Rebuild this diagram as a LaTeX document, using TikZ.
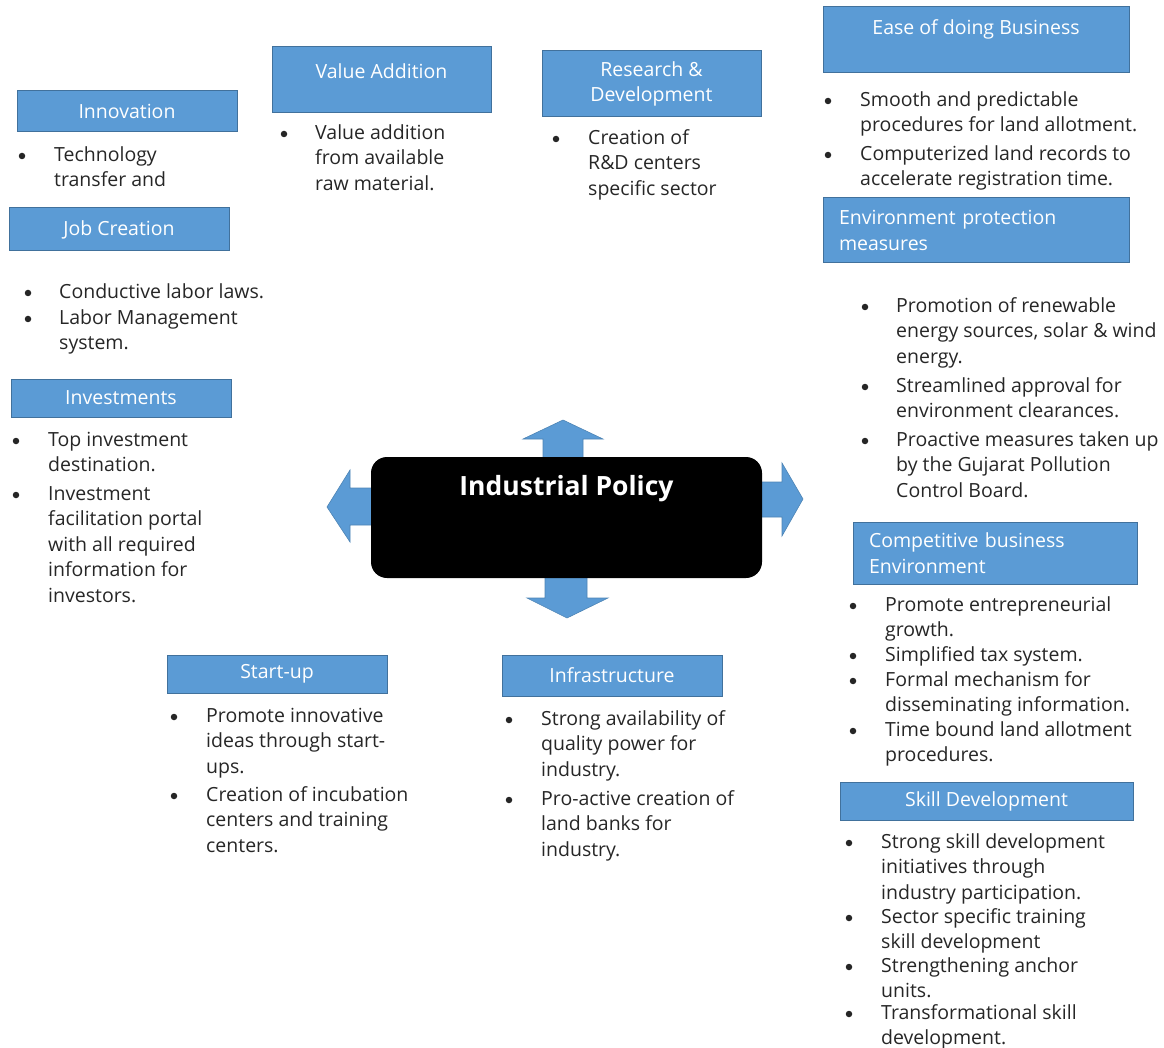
\documentclass[tikz,border=0pt]{standalone}
\usepackage{fontspec}
\setmainfont{Open Sans}
\definecolor{boxblue}{HTML}{5B9BD5}
\definecolor{boxedge}{HTML}{41719C}
\definecolor{inktext}{HTML}{262626}
\newcommand{\bodyfont}{\fontsize{19.5}{25.5}\selectfont}
% bullet and text of one list item
\newcommand{\itm}[5]{%
  \node[dot] at (#2,#4+1) {};
  \node[item] (#1) at (#3,#4) {\strut #5};
}
\tikzset{
  hdr/.style={draw=boxedge, line width=1pt, fill=boxblue, text=white, font=\bodyfont, inner sep=0pt, align=center},
  item/.style={anchor=north west, inner sep=0pt, align=left, text=inktext, font=\bodyfont, yshift=11.85pt},
  dot/.style={circle, fill=inktext, inner sep=0pt, minimum size=6.5pt},
  blockarrow/.style={fill=boxblue, draw=boxblue!85!black, line width=0.6pt}
}
\begin{document}
\begin{tikzpicture}[x=1pt, y=-1pt]
    \useasboundingbox (0,0) rectangle (1164,1048);

    % block arrows round the policy box
    \draw[blockarrow] (543,458) -- (543,439) -- (523,439) -- (563,420) -- (603,439) -- (583,439) -- (583,458) -- cycle;
    \draw[blockarrow] (545,577) -- (545,598) -- (527,598) -- (567,618) -- (608,598) -- (587,598) -- (587,577) -- cycle;
    \draw[blockarrow] (372,488) -- (350,488) -- (350,470) -- (327,507) -- (350,542) -- (350,525) -- (372,525) -- cycle;
    \draw[blockarrow] (761,482) -- (782,482) -- (782,463) -- (803,499) -- (782,536) -- (782,517) -- (761,517) -- cycle;

    \node[fill=black, rounded corners=16pt, text=white, font=\bfseries\fontsize{26.5}{32}\selectfont,
          minimum width=391pt, minimum height=121pt, text height=20pt, text depth=64pt, inner sep=0pt]
          (policy) at (566.5,517.5) {Industrial Policy};

    % left column
    \node[hdr, minimum width=220pt, minimum height=41pt] (innov) at (127,111.5) {Innovation};
    \itm{innov1}{22}{54}{155}{Technology\\transfer and}

    \node[hdr, minimum width=220pt, minimum height=43pt] (jobs) at (119,229.5) {Job Creation};
    \itm{jobs1}{28}{59}{292}{Conductive labor laws.}
    \itm{jobs2}{28}{59}{318}{Labor Management\\system.}

    \node[hdr, minimum width=220pt, minimum height=38pt] (invest) at (121,398) {Investments};
    \itm{invest1}{16}{48}{440}{Top investment\\destination.}
    \itm{invest2}{16}{48}{494}{Investment\\facilitation portal\\with all required\\information for\\investors.}

    % top row
    \node[hdr, minimum width=219pt, minimum height=66pt, text height=14pt, text depth=17pt] (value) at (381.5,80) {Value Addition};
    \itm{value1}{284}{315}{133}{Value addition\\from available\\raw material.}

    \node[hdr, minimum width=219pt, minimum height=66pt] (rnd) at (651.5,84) {Research \&\\Development};
    \itm{rnd1}{556}{588}{138}{Creation of\\R\&D centers\\specific sector}

    % right column
    \node[hdr, minimum width=306pt, minimum height=66pt, text height=14pt, text depth=25pt] (ease) at (976,40) {Ease of doing Business};
    \itm{ease1}{828}{860}{100}{Smooth and predictable\\procedures for land allotment.}
    \itm{ease2}{828}{860}{154}{Computerized land records to\\accelerate registration time.}

    \node[hdr, align=left, text width=274pt, inner xsep=16pt, minimum height=65pt] (env) at (976,230.5) {Environment protection\\measures};
    \itm{env1}{865}{896}{306}{Promotion of renewable\\energy sources, solar \& wind\\energy.}
    \itm{env2}{865}{896}{386}{Streamlined approval for\\environment clearances.}
    \itm{env3}{865}{896}{440}{Proactive measures taken up\\by the Gujarat Pollution\\Control Board.}

    \node[hdr, align=left, text width=252pt, inner xsep=16pt, minimum height=62pt] (compet) at (995,553) {Competitive business\\Environment};
    \itm{compet1}{853}{885}{605}{Promote entrepreneurial\\growth.}
    \itm{compet2}{853}{885}{655}{Simplified tax system.}
    \itm{compet3}{853}{885}{680}{Formal mechanism for\\disseminating information.}
    \itm{compet4}{853}{885}{730}{Time bound land allotment\\procedures.}

    \node[hdr, minimum width=293pt, minimum height=38pt] (skill) at (986.5,801) {Skill Development};
    \itm{skill1}{849}{881}{842}{Strong skill development\\initiatives through\\industry participation.}
    \itm{skill2}{849}{881}{917}{Sector specific training\\skill development}
    \itm{skill3}{849}{881}{966}{Strengthening anchor\\units.}
    \itm{skill4}{849}{881}{1013}{Transformational skill\\development.}

    % bottom row
    \node[hdr, minimum width=220pt, minimum height=38pt] (startup) at (277,674) {Start-up};
    \itm{startup1}{174}{206}{716}{Promote innovative\\ideas through start-\\ups.}
    \itm{startup2}{174}{206}{795}{Creation of incubation\\centers and training\\centers.}

    \node[hdr, minimum width=220pt, minimum height=41pt] (infra) at (612,675.5) {Infrastructure};
    \itm{infra1}{509}{541}{719}{Strong availability of\\quality power for\\industry.}
    \itm{infra2}{509}{541}{799}{Pro-active creation of\\land banks for\\industry.}
\end{tikzpicture}
\end{document}
